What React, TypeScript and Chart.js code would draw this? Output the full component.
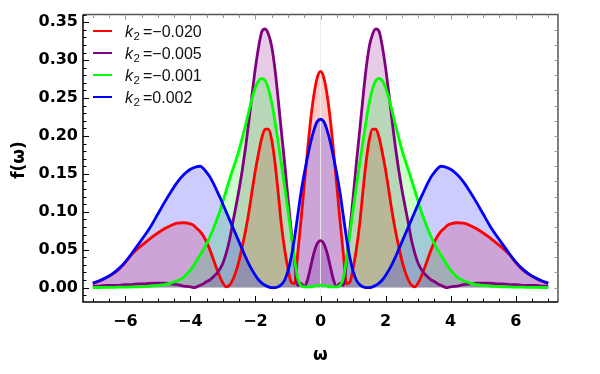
import React, { useEffect, useRef } from "react";
import { Chart, registerables } from "chart.js";

Chart.register(...registerables);

// ω sample points
const omega = [
  -7, -6.8, -6.6, -6.4, -6.2, -6, -5.8, -5.6, -5.4, -5.2, -5, -4.8, -4.6, -4.4, -4.2,
  -4, -3.9, -3.8, -3.7, -3.6, -3.5, -3.4, -3.3, -3.2, -3.1, -3, -2.9, -2.8, -2.7, -2.6, -2.5, -2.4, -2.3, -2.2, -2.1,
  -2, -1.9, -1.8, -1.7, -1.6, -1.5, -1.4, -1.3, -1.2, -1.1, -1, -0.9, -0.8, -0.7, -0.6, -0.5, -0.4, -0.3, -0.2, -0.1,
  0,
  0.1, 0.2, 0.3, 0.4, 0.5, 0.6, 0.7, 0.8, 0.9, 1, 1.1, 1.2, 1.3, 1.4, 1.5, 1.6, 1.7, 1.8, 1.9, 2,
  2.1, 2.2, 2.3, 2.4, 2.5, 2.6, 2.7, 2.8, 2.9, 3, 3.1, 3.2, 3.3, 3.4, 3.5, 3.6, 3.7, 3.8, 3.9, 4,
  4.2, 4.4, 4.6, 4.8, 5, 5.2, 5.4, 5.6, 5.8, 6, 6.2, 6.4, 6.6, 6.8, 7,
];

// k2 = -0.020
const seriesK020 = [
  0.0055, 0.0085, 0.0125, 0.0175, 0.024, 0.033, 0.044, 0.052, 0.059, 0.066, 0.072, 0.0775, 0.082, 0.085, 0.0855,
  0.084, 0.082, 0.078, 0.074, 0.068, 0.060, 0.050, 0.038, 0.026, 0.015, 0.006, 0.001, 0.003, 0.010, 0.021, 0.036, 0.055, 0.076, 0.100, 0.128,
  0.155, 0.178, 0.198, 0.209, 0.209, 0.195, 0.165, 0.125, 0.082, 0.050, 0.025, 0.007, 0.005, 0.045, 0.088, 0.135, 0.180, 0.222, 0.255, 0.277,
  0.285,
  0.277, 0.255, 0.222, 0.180, 0.135, 0.088, 0.045, 0.005, 0.007, 0.025, 0.050, 0.082, 0.125, 0.165, 0.195, 0.209, 0.209, 0.198, 0.178, 0.155,
  0.128, 0.100, 0.076, 0.055, 0.036, 0.021, 0.010, 0.003, 0.001, 0.006, 0.015, 0.026, 0.038, 0.050, 0.060, 0.068, 0.074, 0.078, 0.082, 0.084,
  0.0855, 0.085, 0.082, 0.0775, 0.072, 0.066, 0.059, 0.052, 0.044, 0.033, 0.024, 0.0175, 0.0125, 0.0085, 0.0055,
];

// k2 = -0.005
const seriesK005 = [
  0.002, 0.002, 0.003, 0.003, 0.003, 0.004, 0.004, 0.005, 0.005, 0.006, 0.006, 0.006, 0.005, 0.004, 0.002,
  0.001, 0.000, 0.001, 0.003, 0.005, 0.008, 0.010, 0.014, 0.018, 0.024, 0.032, 0.045, 0.062, 0.085, 0.107, 0.130, 0.156, 0.186, 0.220, 0.256,
  0.290, 0.318, 0.338, 0.341, 0.334, 0.318, 0.288, 0.248, 0.205, 0.163, 0.118, 0.075, 0.035, 0.003, 0.006, 0.001, 0.010, 0.028, 0.046, 0.058,
  0.062,
  0.058, 0.046, 0.028, 0.010, 0.001, 0.006, 0.003, 0.035, 0.075, 0.118, 0.163, 0.205, 0.248, 0.288, 0.318, 0.334, 0.341, 0.338, 0.318, 0.290,
  0.256, 0.220, 0.186, 0.156, 0.130, 0.107, 0.085, 0.062, 0.045, 0.032, 0.024, 0.018, 0.014, 0.010, 0.008, 0.005, 0.003, 0.001, 0.000, 0.001,
  0.002, 0.004, 0.005, 0.006, 0.006, 0.006, 0.005, 0.005, 0.004, 0.004, 0.003, 0.003, 0.003, 0.002, 0.002,
];

// k2 = -0.001
const seriesK001 = [
  0.0001, 0.0001, 0.0002, 0.0003, 0.0005, 0.0005, 0.001, 0.001, 0.0015, 0.002, 0.003, 0.004, 0.006, 0.009, 0.014,
  0.023, 0.029, 0.036, 0.043, 0.050, 0.058, 0.067, 0.077, 0.088, 0.100, 0.114, 0.128, 0.142, 0.155, 0.168, 0.182, 0.198, 0.215, 0.233, 0.250,
  0.264, 0.273, 0.276, 0.273, 0.262, 0.244, 0.219, 0.191, 0.162, 0.133, 0.102, 0.070, 0.038, 0.012, 0.003, 0.001, 0.001, 0.001, 0.002, 0.003,
  0.003,
  0.003, 0.002, 0.001, 0.001, 0.001, 0.003, 0.012, 0.038, 0.070, 0.102, 0.133, 0.162, 0.191, 0.219, 0.244, 0.262, 0.273, 0.276, 0.273, 0.264,
  0.250, 0.233, 0.215, 0.198, 0.182, 0.168, 0.155, 0.142, 0.128, 0.114, 0.100, 0.088, 0.077, 0.067, 0.058, 0.050, 0.043, 0.036, 0.029, 0.023,
  0.014, 0.009, 0.006, 0.004, 0.003, 0.002, 0.0015, 0.001, 0.001, 0.0005, 0.0005, 0.0003, 0.0002, 0.0001, 0.0001,
];

// k2 = 0.002
const seriesK002 = [
  0.006, 0.009, 0.013, 0.018, 0.025, 0.034, 0.045, 0.057, 0.069, 0.082, 0.097, 0.112, 0.126, 0.139, 0.149,
  0.156, 0.158, 0.1595, 0.160, 0.157, 0.152, 0.146, 0.138, 0.129, 0.120, 0.110, 0.100, 0.090, 0.080, 0.070, 0.060, 0.050, 0.040, 0.031, 0.023,
  0.016, 0.010, 0.006, 0.003, 0.001, 0.000, 0.000, 0.001, 0.004, 0.010, 0.022, 0.040, 0.065, 0.095, 0.125, 0.150, 0.172, 0.192, 0.208, 0.219,
  0.222,
  0.219, 0.208, 0.192, 0.172, 0.150, 0.125, 0.095, 0.065, 0.040, 0.022, 0.010, 0.004, 0.001, 0.000, 0.000, 0.001, 0.003, 0.006, 0.010, 0.016,
  0.023, 0.031, 0.040, 0.050, 0.060, 0.070, 0.080, 0.090, 0.100, 0.110, 0.120, 0.129, 0.138, 0.146, 0.152, 0.157, 0.160, 0.1595, 0.158, 0.156,
  0.149, 0.139, 0.126, 0.112, 0.097, 0.082, 0.069, 0.057, 0.045, 0.034, 0.025, 0.018, 0.013, 0.009, 0.006,
];

const legendValues = ["\u22120.020", "\u22120.005", "\u22120.001", "0.002"];
const seriesColors = ["#ff0000", "#800080", "#00ff00", "#0000ff"];
const fillColors = [
  "rgba(255,0,0,0.2)",
  "rgba(128,0,128,0.2)",
  "rgba(0,255,0,0.2)",
  "rgba(0,0,255,0.2)",
];
const xTickValues = [-6, -4, -2, 0, 2, 4, 6];
const yTickValues = [0, 0.05, 0.1, 0.15, 0.2, 0.25, 0.3, 0.35];

const TICK_FONT = { family: "'DejaVu Sans'", weight: "bold" as const, size: 16 };

const decorPlugin = {
  id: "decor",
  beforeDatasetsDraw(chart: any) {
    const { ctx, chartArea, scales } = chart;
    const px = scales.x.getPixelForValue(0);
    ctx.save();
    ctx.strokeStyle = "rgba(235,235,235,0.9)";
    ctx.lineWidth = 1;
    ctx.beginPath();
    ctx.moveTo(px, chartArea.top);
    ctx.lineTo(px, chartArea.bottom);
    ctx.stroke();
    ctx.restore();
  },
  afterDraw(chart: any) {
    const { ctx, chartArea, scales } = chart;
    const { left, right, top, bottom } = chartArea;
    const xs = scales.x;
    const ys = scales.y;
    ctx.save();

    // frame
    ctx.lineWidth = 1.5;
    ctx.strokeStyle = "#555";
    ctx.beginPath();
    ctx.moveTo(left, top);
    ctx.lineTo(right, top);
    ctx.lineTo(right, bottom);
    ctx.stroke();
    ctx.strokeStyle = "#000";
    ctx.beginPath();
    ctx.moveTo(left, top);
    ctx.lineTo(left, bottom);
    ctx.lineTo(right, bottom);
    ctx.stroke();

    // left ticks
    ctx.lineWidth = 1;
    for (let i = -1; i <= 36; i++) {
      const v = i / 100;
      const py = Math.round(ys.getPixelForValue(v)) + 0.5;
      if (py < top || py > bottom) continue;
      const len = i % 5 === 0 ? 6 : 3.5;
      ctx.strokeStyle = "#000";
      ctx.beginPath();
      ctx.moveTo(left, py);
      ctx.lineTo(left + len, py);
      ctx.stroke();
    }
    // right ticks (gray)
    for (let i = 0; i <= 17; i++) {
      const v = (i * 2) / 100;
      const py = Math.round(ys.getPixelForValue(v)) + 0.5;
      if (py < top || py > bottom) continue;
      ctx.strokeStyle = "#999";
      ctx.beginPath();
      ctx.moveTo(right, py);
      ctx.lineTo(right - 3.5, py);
      ctx.stroke();
    }
    // bottom and top ticks
    for (let i = -14; i <= 14; i++) {
      const v = i / 2;
      const p = Math.round(xs.getPixelForValue(v)) + 0.5;
      const major = i % 4 === 0;
      ctx.strokeStyle = "#000";
      ctx.beginPath();
      ctx.moveTo(p, bottom);
      ctx.lineTo(p, bottom - (major ? 6 : 3.5));
      ctx.stroke();
      ctx.strokeStyle = "#999";
      ctx.beginPath();
      ctx.moveTo(p, top);
      ctx.lineTo(p, top + (major ? 5 : 3.5));
      ctx.stroke();
    }

    // axis titles
    ctx.fillStyle = "#000";
    ctx.textAlign = "center";
    ctx.textBaseline = "middle";
    ctx.font = "bold 17px 'DejaVu Sans'";
    ctx.fillText("\u03c9", (left + right) / 2, 356);
    ctx.save();
    ctx.translate(20, 160);
    ctx.rotate(-Math.PI / 2);
    ctx.fillText("f(\u03c9)", 0, 0);
    ctx.restore();

    // legend
    ctx.textAlign = "left";
    ctx.textBaseline = "alphabetic";
    const rows = [31, 53, 75, 97];
    rows.forEach((ry, i) => {
      ctx.strokeStyle = seriesColors[i];
      ctx.lineWidth = 2;
      ctx.beginPath();
      ctx.moveTo(93, ry);
      ctx.lineTo(112, ry);
      ctx.stroke();
      ctx.fillStyle = "#111";
      ctx.font = "italic 16px 'Liberation Sans'";
      ctx.fillText("k", 125, ry + 6);
      const wk = ctx.measureText("k").width;
      ctx.font = "11.5px 'Liberation Sans'";
      ctx.fillText("2", 125 + wk + 0.5, ry + 9.3);
      ctx.font = "16px 'Liberation Sans'";
      ctx.fillText("=" + legendValues[i], 143, ry + 6);
    });

    ctx.restore();
  },
};

export default function App() {
  const ref = useRef<HTMLCanvasElement | null>(null);
  useEffect(() => {
    if (!ref.current) return;
    const series = [seriesK020, seriesK005, seriesK001, seriesK002];
    const chart = new Chart(ref.current, {
      type: "line",
      data: {
        datasets: series.map((s, i) => ({
          label: "k2=" + legendValues[i],
          data: omega.map((x, j) => ({ x, y: s[j] })),
          borderColor: seriesColors[i],
          backgroundColor: fillColors[i],
          fill: "origin",
          borderWidth: 2.8,
          pointRadius: 0,
          cubicInterpolationMode: "monotone" as const,
          order: 4 - i,
        })),
      },
      options: {
        animation: false,
        responsive: false,
        devicePixelRatio: 1,
        layout: { padding: { left: 0, right: 42, top: 8, bottom: 0 } },
        plugins: {
          legend: { display: false },
          tooltip: { enabled: false },
          filler: { drawTime: "beforeDatasetsDraw" },
        } as any,
        scales: {
          x: {
            type: "linear",
            min: -7.3,
            max: 7.3,
            grid: { display: false, drawTicks: false },
            border: { display: false },
            afterBuildTicks: (s: any) => {
              s.ticks = xTickValues.map((v) => ({ value: v }));
            },
            afterFit: (s: any) => {
              s.height = 72;
            },
            ticks: {
              font: TICK_FONT,
              color: "#000",
              padding: 10,
              maxRotation: 0,
              autoSkip: false,
              callback: (v: any) => (v < 0 ? "\u2212" + Math.abs(v) : String(v)),
            },
          },
          y: {
            type: "linear",
            min: -0.019,
            max: 0.36,
            grid: { display: false, drawTicks: false },
            border: { display: false },
            afterBuildTicks: (s: any) => {
              s.ticks = yTickValues.map((v) => ({ value: v }));
            },
            afterFit: (s: any) => {
              s.width = 83;
            },
            ticks: {
              font: TICK_FONT,
              color: "#000",
              padding: 5,
              autoSkip: false,
              callback: (v: any) => Number(v).toFixed(2),
            },
          },
        },
      },
      plugins: [decorPlugin],
    });
    return () => chart.destroy();
  }, []);
  return (
    <div style={{ position: "fixed", left: 0, top: 0, width: 600, height: 374, background: "#fff" }}>
      <canvas ref={ref} width={600} height={374} />
    </div>
  );
}
